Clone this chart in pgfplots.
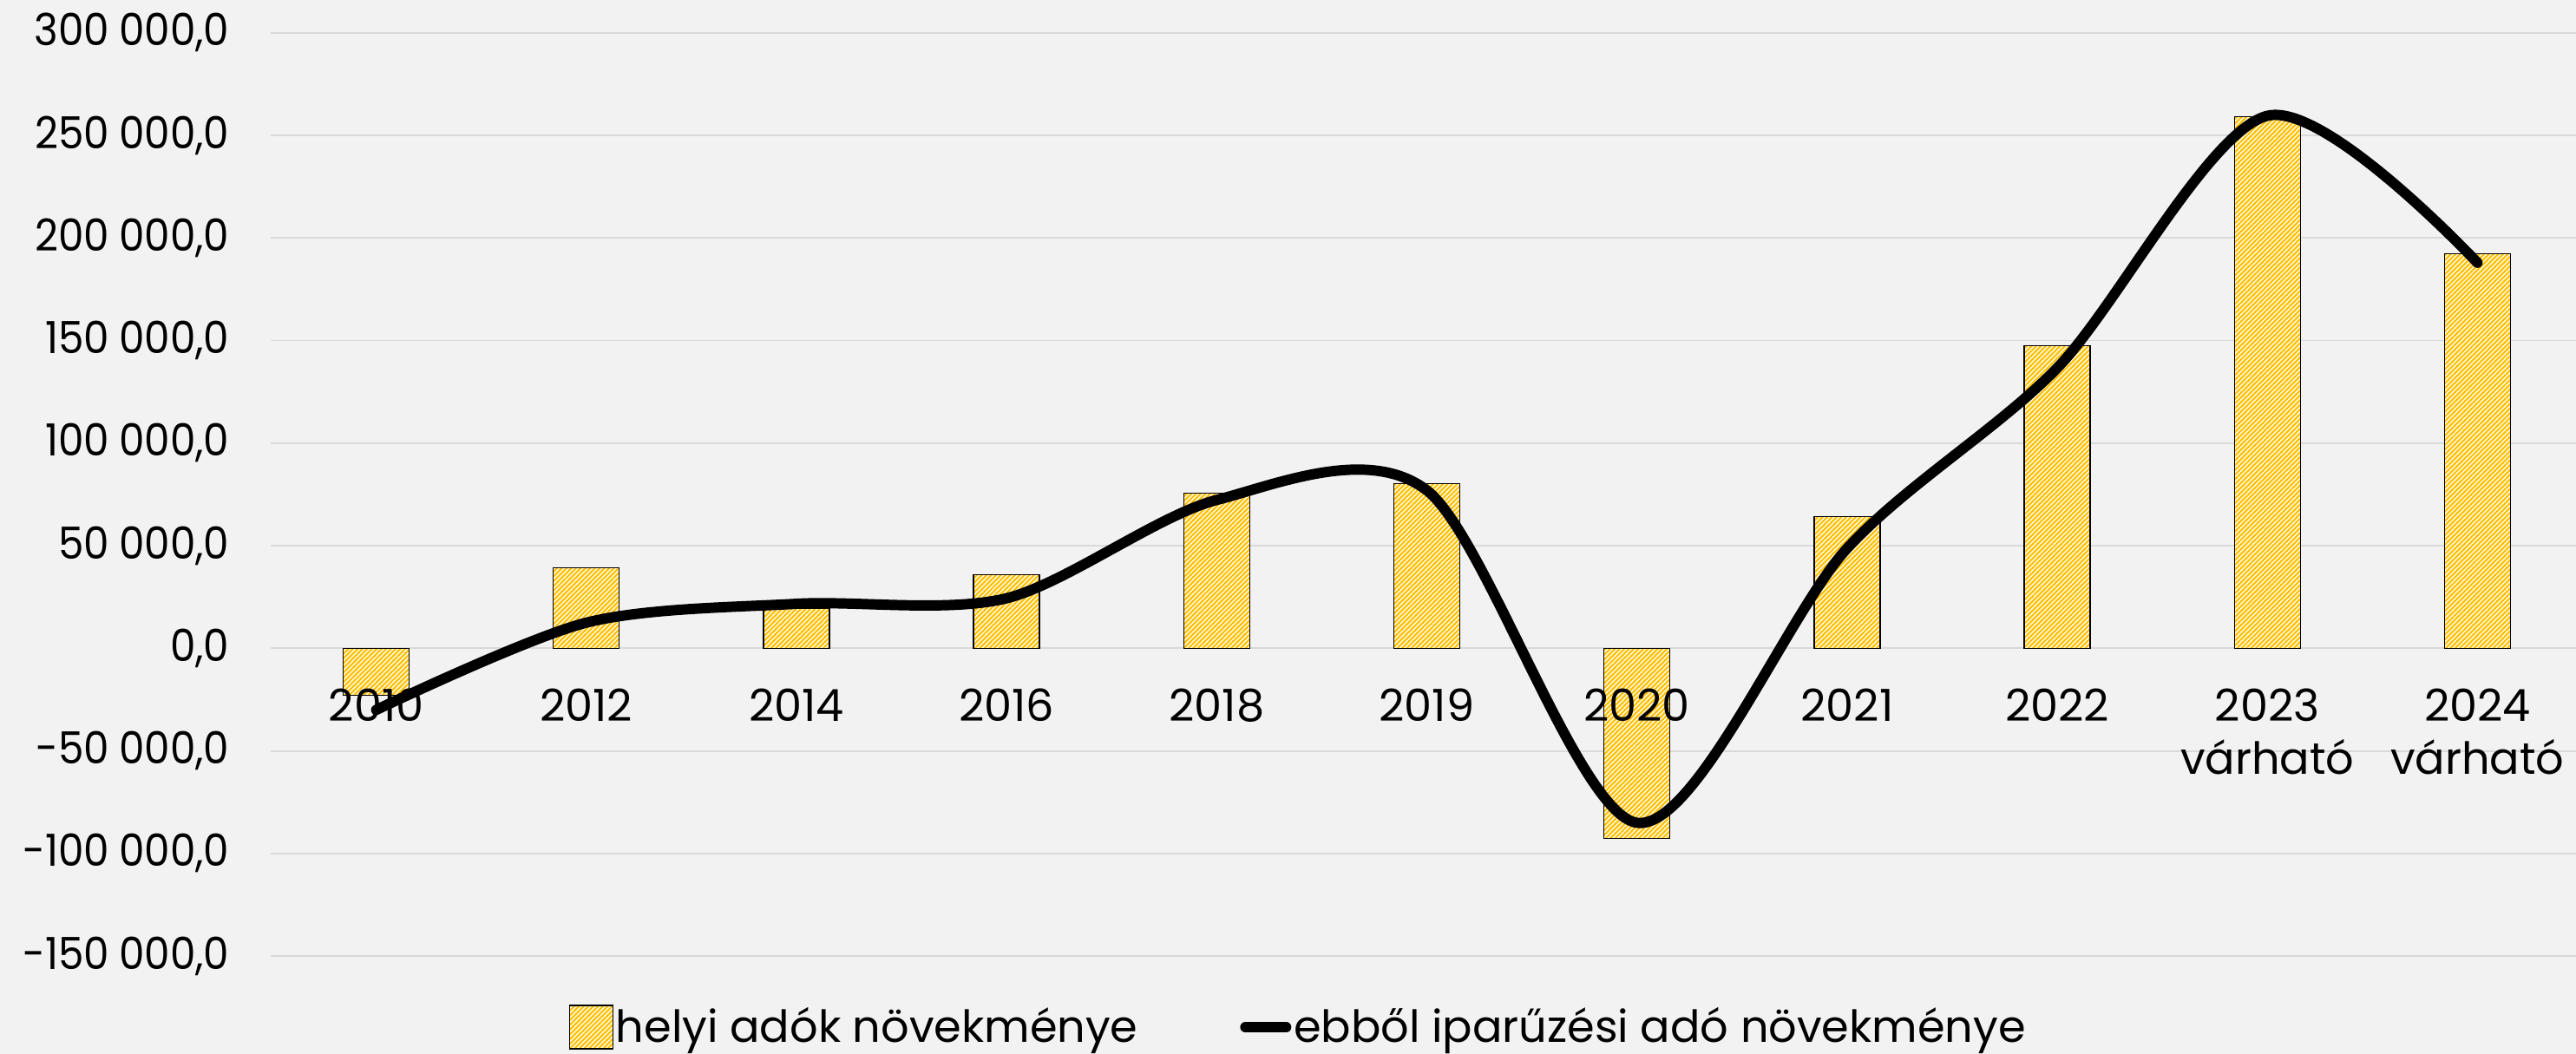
\documentclass[border=0pt]{standalone}
\usepackage{fontspec}
\setmainfont{Poppins}
\newfontfamily\ytickfont[FakeStretch=0.92]{Poppins}
\usepackage{pgfplots}
\pgfplotsset{compat=1.18}
\usetikzlibrary{patterns.meta}
\definecolor{bgc}{HTML}{F2F2F2}
\definecolor{gridc}{HTML}{D9D9D9}
\definecolor{stripe}{HTML}{FFC000}
\newcommand{\tf}{\fontsize{14.5}{17.5}\selectfont}
\pgfplotsset{
  base/.style={
    scale only axis, width=266.4mm, height=106.45mm,
    xmin=-0.5, xmax=10.5, ymin=-150000, ymax=300000,
    axis x line=middle, axis y line=left, axis line style={draw=none},
    ytick={-150000,-100000,...,300000},
    xtick={0,...,10},
    major tick length=0pt, tick style={draw=none},
    scaled y ticks=false,
  },
  barsty/.style={ybar, bar width=7.6mm, draw=black, line width=0.4pt,
    preaction={fill=white},
    pattern={Lines[angle=45,distance=1.1pt,line width=0.65pt]}, pattern color=stripe},
}
\begin{document}
\begin{tikzpicture}
\fill[bgc, use as bounding box] (-31.25mm,-11.28mm) rectangle (265.65mm,110.22mm);
\begin{axis}[base,
  xticklabels={}, yticklabels={},
  ymajorgrids=true, grid style={gridc, line width=0.5pt},
]
\addplot[barsty]
  coordinates {(0,-23000) (1,39200) (2,19500) (3,35900) (4,75500) (5,80200) (6,-92600) (7,64300) (8,147600) (9,259000) (10,192400)};
\end{axis}
\begin{axis}[base,
  xticklabels={2010,2012,2014,2016,2018,2019,2020,2021,2022,{2023\\várható},{2024\\várható}},
  /pgf/number format/.cd, assume math mode=true, fixed, fixed zerofill, precision=1, use comma, 1000 sep={\hspace{0.22em}},
  /pgfplots/.cd,
  tick label style={font=\tf},
  yticklabel style={inner sep=0pt, xshift=-13.5pt, font=\tf\ytickfont},
  xticklabel style={align=center, inner sep=0pt, yshift=-13pt},
  legend columns=2,
  legend style={at={(0.4445,-0.077)}, anchor=center, draw=none, fill=none, font=\tf,
    nodes={inner sep=0.8pt},
    /tikz/every even column/.append style={column sep=11.5mm}},
]
\addlegendimage{barsty, legend image code/.code={\draw (0mm,-2.5mm) rectangle (5mm,2.5mm);}}
\addlegendentry{helyi adók növekménye}
\addplot[black, line width=3.4pt, smooth, line cap=round, line join=round,
  legend image code/.code={\draw[black, line width=3.4pt, line cap=round] (0.6mm,0mm) -- (5.3mm,0mm);}]
  coordinates {(0,-30000) (1,12500) (2,21700) (3,24400) (4,72300) (5,77000) (6,-85000) (7,48700) (8,136600) (9,259500) (10,187900)};
\addlegendentry{ebből iparűzési adó növekménye}
\end{axis}
\end{tikzpicture}
\end{document}
